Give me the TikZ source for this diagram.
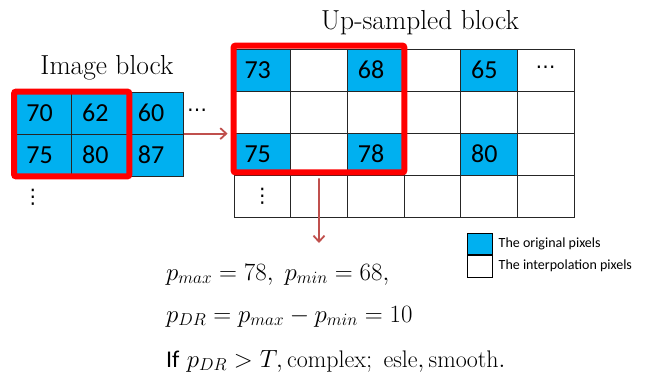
\documentclass[tikz,border=0pt]{standalone}
\usepackage{fontspec}
\usepackage{amsmath}
\newfontfamily\calib{Carlito}
\newfontfamily\dejavu{DejaVu Sans}
\usetikzlibrary{arrows.meta, positioning, fit}
\definecolor{pxBlue}{HTML}{00B0F0}
\definecolor{pxRed}{HTML}{FF0000}
\definecolor{pxArrow}{HTML}{C0504D}

\begin{document}
\begin{tikzpicture}[x=1pt, y=-1pt,
  cell/.style={draw=black!85, line width=0.8pt, minimum width=56.6pt, minimum height=42pt,
               inner xsep=10.5pt, text width=35.6pt, align=left,
               font=\calib\fontsize{26}{28}\selectfont},
  orig/.style={cell, fill=pxBlue},
  dots/.style={font=\dejavu\fontsize{20}{22}\selectfont, inner sep=0pt},
  redbox/.style={draw=pxRed, line width=6pt, rounded corners=2pt, inner sep=0pt},
  link/.style={draw=pxArrow, line width=1.8pt, -{Straight Barb[length=6pt, width=11pt]}},
  title/.style={font=\fontsize{27.5}{32}\selectfont},
  eq/.style={anchor=base west, inner sep=0pt, font=\fontsize{24}{28}\selectfont},
  key/.style={draw, line width=1pt, minimum width=25pt, minimum height=22.5pt, inner sep=0pt},
  keytext/.style={font=\calib\fontsize{14}{16}\selectfont, inner sep=0pt},
]
  \useasboundingbox (0,0) rectangle (651,380);

  % image block
  \node[title] (ititle) at (107,68) {Image block};
  \foreach \v [count=\i from 0] in {70,62,60}
    \node[orig, minimum width=55.7pt, text width=34.7pt] (i0\i) at (43.85+55.7*\i,113) {\v};
  \foreach \v [count=\i from 0] in {75,80,87}
    \node[orig, minimum width=55.7pt, text width=34.7pt] (i1\i) at (43.85+55.7*\i,155) {\v};
  \node[dots] (ihdots) at (197,113) {⋯};
  \node[dots] (ivdots) at (33,197) {⋮};
  \node[redbox, fit=(i00)(i11), inner xsep=1.5pt] (ired) {};

  % up-sampled block
  \node[title] (utitle) at (420,23) {Up-sampled block};
  \foreach \r in {0,...,3}
    \foreach \c in {0,...,5}
      \node[cell] (u\r\c) at (262.3+56.67*\c,70+42*\r) {};
  \foreach \r/\c/\v in {0/0/73, 0/2/68, 0/4/65, 2/0/75, 2/2/78, 2/4/80}
    \node[orig] (o\r\c) at (u\r\c) {\v};
  \node[dots] (uhdots) at (u05) {⋯};
  \node[dots] (uvdots) at (u30) {⋮};
  \node[redbox, fit=(u00)(u22), yshift=3pt] (ured) {};

  % arrows
  \draw[link, shorten >=3pt] (i12.north east) -- (i12.north east -| ured.west);
  \coordinate (eqtip) at (319,243);
  \draw[link, shorten <=3pt] (ured.south) -- (eqtip);

  % legend
  \node[key, fill=pxBlue, minimum height=21pt] (korig) at (479.5,243.5) {};
  \node[key, below=0pt of korig] (kinter) {};
  \node[keytext, right=6pt of korig] (torig) {The original pixels};
  \node[keytext, right=6pt of kinter] (tinter) {The interpolation pixels};

  % equations
  \node[eq] (eqa) at (166,280) {$p_{max} = 78,\; p_{min} = 68,$};
  \node[eq] (eqb) at (166,322) {$p_{DR} = p_{max} - p_{min} = 10$};
  \node[eq] (eqc) at (166,367) {{\calib If} $p_{DR} > T, \mathrm{complex};\ \mathrm{esle}, \mathrm{smooth}.$};
\end{tikzpicture}
\end{document}
